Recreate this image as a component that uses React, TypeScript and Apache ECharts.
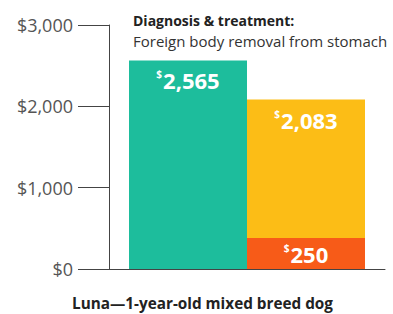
import React, { useEffect, useRef } from "react";
import * as echarts from "echarts";

const categories = ["Luna"];
const vetBill = [2565];
const insurancePaid = [2083];
const outOfPocket = [250];
const yTicks = [0, 1000, 2000, 3000];
const titleLine1 = "Diagnosis & treatment:";
const titleLine2 = "Foreign body removal from stomach";
const xTitle = "Luna\u20141-year-old mixed breed dog";

const FONT = "'Open Sans', sans-serif";

const fmt = (v: number) => v.toLocaleString("en-US");

export default function App() {
  const ref = useRef<HTMLDivElement>(null);
  useEffect(() => {
    if (!ref.current) return;
    const chart = echarts.init(ref.current, null, { renderer: "svg" });
    const rich = {
      s: { fontSize: 10, fontWeight: "bold", color: "#fff", fontFamily: FONT, padding: [0, 1, 12, 0] },
      v: { fontSize: 22, fontWeight: "bold", color: "#fff", fontFamily: FONT },
    };
    const lab = (position: string, distance: number) => ({
      show: true,
      position,
      distance,
      formatter: (p: any) => `{s|$}{v|${fmt(p.data.label ?? p.value)}}`,
      rich,
    });
    chart.setOption({
      animation: false,
      textStyle: { fontFamily: FONT },
      grid: { left: 109, right: 8, top: 25, bottom: 45, containLabel: false },
      xAxis: {
        type: "category",
        data: categories,
        axisLine: { show: true, lineStyle: { color: "#444", width: 1 } },
        axisTick: { show: false },
        axisLabel: { show: false },
      },
      yAxis: {
        type: "value",
        min: yTicks[0],
        max: yTicks[yTicks.length - 1],
        interval: 1000,
        axisLine: { show: true, lineStyle: { color: "#444", width: 1 } },
        axisTick: { show: true, length: 31, lineStyle: { color: "#444", width: 1 } },
        splitLine: { show: false },
        axisLabel: {
          formatter: (v: number) => "$" + fmt(v),
          fontSize: 18,
          color: "#555",
          fontFamily: FONT,
          margin: 36,
        },
      },
      series: [
        {
          type: "bar",
          stack: "a",
          barWidth: 118,
          barGap: "0%",
          data: vetBill,
          itemStyle: { color: "#1dbd9c" },
          label: lab("insideTop", 9),
        },
        {
          type: "bar",
          stack: "b",
          barWidth: 118,
          barGap: "0%",
          z: 3,
          barMinHeight: 31,
          data: outOfPocket,
          itemStyle: { color: "#f75b18" },
          label: lab("inside", 0),
        },
        {
          type: "bar",
          stack: "b",
          barWidth: 118,
          barGap: "0%",
          z: 2,
          data: insurancePaid.map((v, i) => ({ value: v - outOfPocket[i], label: v })),
          itemStyle: { color: "#fcbd16" },
          label: lab("insideTop", 9),
        },
      ],
      graphic: [
        {
          type: "text",
          left: 133,
          top: 13,
          style: { text: titleLine1, fontSize: 14, fontWeight: "bold", fill: "#222", fontFamily: FONT },
        },
        {
          type: "text",
          left: 133,
          top: 33,
          style: { text: titleLine2, fontSize: 15, fill: "#333", fontFamily: FONT },
        },
        {
          type: "text",
          left: 72,
          top: 295,
          style: { text: xTitle, fontSize: 15.3, fontWeight: "bold", fill: "#222", fontFamily: FONT },
        },
      ],
    });
    return () => chart.dispose();
  }, []);
  return <div ref={ref} style={{ width: 393, height: 314, position: "absolute", left: 0, top: 0 }} />;
}
